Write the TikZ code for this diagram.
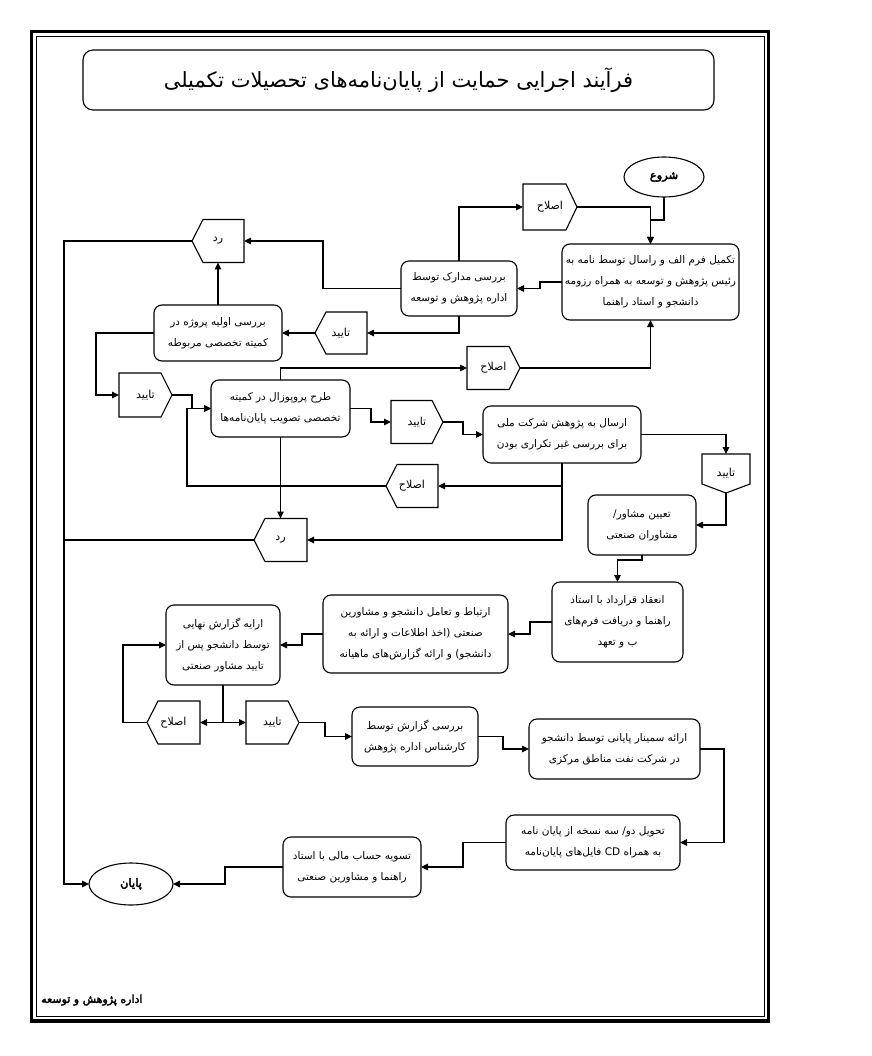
\documentclass[tikz,border=0pt]{standalone}
\usepackage{fontspec}
\usetikzlibrary{arrows.meta,shapes.geometric}
\TeXXeTstate=1
\newfontfamily\fafnt[Script=Arabic]{DejaVu Sans}
\newfontfamily\fabfnt[Script=Arabic,FakeBold=3]{DejaVu Sans}
\newcommand\rtlline[1]{\beginR #1\endR}
\newcommand\pentE[1]{\draw[shp] (#1.north west) -- ([xshift=-11pt]#1.north east) -- (#1.east) -- ([xshift=-11pt]#1.south east) -- (#1.south west) -- cycle;}
\newcommand\pentW[1]{\draw[shp] (#1.north east) -- ([xshift=11pt]#1.north west) -- (#1.west) -- ([xshift=11pt]#1.south west) -- (#1.south east) -- cycle;}
\newcommand\pentS[1]{\draw[shp] (#1.north west) -- (#1.north east) -- ([yshift=9pt]#1.south east) -- (#1.south) -- ([yshift=9pt]#1.south west) -- cycle;}
\begin{document}
\begin{tikzpicture}[x=1pt,y=-1pt,
  box/.style={draw, rounded corners=8pt, line width=1.1pt, inner sep=2pt, outer sep=0pt, align=center, font=\fafnt\fontsize{10.5}{21}\selectfont},
  pn/.style={inner sep=0pt, outer sep=0pt, font=\fafnt\fontsize{11}{21}\selectfont},
  term/.style={draw, ellipse, line width=1.1pt, inner sep=0pt, outer sep=0pt, font=\fabfnt\fontsize{11.5}{13}\selectfont},
  shp/.style={line width=1.1pt},
  cn/.style={line width=1.1pt, -{Triangle[length=7pt,width=6.5pt]}},
  ln/.style={line width=1.1pt},
]
\useasboundingbox (0,0) rectangle (871,1056);
% page frame
\draw[line width=3.5pt] (31.5,31.5) rectangle (768.5,1021);
\draw[line width=0.8pt] (36,36) rectangle (764,1016.5);

% title
\node[draw, rounded corners=10pt, line width=1.1pt, minimum width=631, minimum height=60, font=\fafnt\fontsize{21}{24}\selectfont] (title) at (398.5,80) {\rtlline{فرآیند اجرایی حمایت از پایان^^^^200cنامه^^^^200cهای تحصیلات تکمیلی}};

% terminals
\node[term, minimum width=80, minimum height=40] (shuru) at (664,177) {\rtlline{شروع}};
\node[term, minimum width=84, minimum height=42] (payan) at (131,884) {\rtlline{پایان}};

% process boxes
\node[box, minimum width=177, minimum height=76] (A) at (650.5,282) {\rtlline{تکمیل فرم الف و راسال توسط نامه به}\\\rtlline{رئیس پژوهش و توسعه به همراه رزومه}\\\rtlline{دانشجو و استاد راهنما}};
\node[box, minimum width=116, minimum height=55] (B) at (459,288.5) {\rtlline{بررسی مدارک توسط}\\\rtlline{اداره پژوهش و توسعه}};
\node[box, minimum width=128, minimum height=56] (C) at (218,333) {\rtlline{بررسی اولیه پروژه در}\\\rtlline{کمیته تخصصی مربوطه}};
\node[box, minimum width=139, minimum height=57] (D) at (280.5,408.5) {\rtlline{طرح پروپوزال در کمیته}\\\rtlline{تخصصی تصویب پایان^^^^200cنامه^^^^200cها}};
\node[box, minimum width=158, minimum height=57] (E) at (562,434.5) {\rtlline{ارسال به پژوهش شرکت ملی}\\\rtlline{برای بررسی غیر تکراری بودن}};
\node[box, minimum width=108, minimum height=60] (F) at (642,525) {\rtlline{تعیین مشاور\kern0pt/}\\\rtlline{مشاوران صنعتی}};
\node[box, minimum width=131, minimum height=80] (G) at (617.5,622) {\rtlline{انعقاد قرارداد با استاد}\\\rtlline{راهنما و دریافت فرم^^^^200cهای}\\\rtlline{ب و تعهد}};
\node[box, minimum width=185, minimum height=78] (H) at (415.5,634) {\rtlline{ارتباط و تعامل دانشجو و مشاورین}\\\rtlline{صنعتی (اخذ اطلاعات و ارائه به}\\\rtlline{دانشجو) و ارائه گزارش^^^^200cهای ماهیانه}};
\node[box, minimum width=114, minimum height=80] (I) at (223,645) {\rtlline{ارایه گزارش نهایی}\\\rtlline{توسط دانشجو پس از}\\\rtlline{تایید مشاور صنعتی}};
\node[box, minimum width=126, minimum height=59] (J) at (415,736.5) {\rtlline{بررسی گزارش توسط}\\\rtlline{کارشناس اداره پژوهش}};
\node[box, minimum width=171, minimum height=60] (K) at (614.5,749) {\rtlline{ارائه سمینار پایانی توسط دانشجو}\\\rtlline{در شرکت نفت مناطق مرکزی}};
\node[box, minimum width=174, minimum height=55] (L) at (593,842.5) {\rtlline{تحویل دو\kern0pt/ سه نسخه از پایان نامه}\\\rtlline{به همراه CD فایل^^^^200cهای پایان^^^^200cنامه}};
\node[box, minimum width=138, minimum height=60] (M) at (352,867) {\rtlline{تسویه حساب مالی با استاد}\\\rtlline{راهنما و مشاورین صنعتی}};

% decision tags
\node[pn, minimum width=54, minimum height=46] (eslah1) at (550,207) {\rtlline{اصلاح}};
\node[pn, minimum width=52, minimum height=43] (rad1) at (218,241) {\rtlline{رد}};
\node[pn, minimum width=52, minimum height=42] (tayid1) at (341,333) {\rtlline{تایید}};
\node[pn, minimum width=53, minimum height=44] (tayid2) at (145.5,395) {\rtlline{تایید}};
\node[pn, minimum width=53, minimum height=43] (eslah2) at (493.5,368) {\rtlline{اصلاح}};
\node[pn, minimum width=52, minimum height=43] (tayid3) at (417,422) {\rtlline{تایید}};
\node[pn, minimum width=48, minimum height=39] (tayid4) at (726,473.5) {\rtlline{تایید}};
\node[pn, minimum width=52, minimum height=43] (eslah3) at (412,486) {\rtlline{اصلاح}};
\node[pn, minimum width=53, minimum height=43] (rad2) at (280.5,540) {\rtlline{رد}};
\node[pn, minimum width=53, minimum height=43] (eslah4) at (173.5,722.5) {\rtlline{اصلاح}};
\node[pn, minimum width=53, minimum height=43] (tayid5) at (272.5,722.5) {\rtlline{تایید}};
\pentE{eslah1}
\pentW{rad1}
\pentW{tayid1}
\pentE{tayid2}
\pentE{eslah2}
\pentE{tayid3}
\pentS{tayid4}
\pentW{eslah3}
\pentW{rad2}
\pentW{eslah4}
\pentE{tayid5}

% footer
\node[anchor=west, inner sep=0pt, font=\fabfnt\fontsize{11}{12}\selectfont] (footer) at (41,1000) {\rtlline{اداره پژوهش و توسعه}};

% connectors
\draw[cn] (shuru.south) -- ++(0,23) -| (A.north);
\draw[cn] (eslah1.east) -| (A.north);
\draw[cn] (A.west) -- ++(-22,0) |- (B.east);
\draw[cn] (B.north) |- (eslah1.west);
\draw[cn] (B.west) -- ++(-78,0) |- (rad1.east);
\draw[cn] (B.south) |- (tayid1.east);
\draw[cn] (tayid1.west) -- (C.east);
\draw[cn] (C.north) -- (rad1.south);
\draw[cn] (rad1.west) -- ++(-128,0) |- (payan.west);
\draw[cn] (C.west) -- ++(-58,0) |- (tayid2.west);
\draw[cn] (tayid2.east) -- ++(20,0) |- (D.west);
\draw[cn] (eslah3.west) -- ++(-199,0) |- (D.west);
\draw[cn] (D.north) |- (eslah2.west);
\draw[cn] (eslah2.east) -| (A.south);
\draw[cn] (D.east) -- ++(21,0) |- (tayid3.west);
\draw[cn] (tayid3.east) -- ++(20,0) |- (E.west);
\draw[cn] (E.east) -| (tayid4.north);
\draw[cn] (tayid4.south) |- (F.east);
\draw[cn] (E.south) |- (eslah3.east);
\draw[cn] (E.south) |- (rad2.east);
\draw[cn] (D.south) -- (rad2.north);
\draw[ln] (rad2.west) -- ++(-190,0);
\draw[cn] (F.south) -- ++(0,5) -| (G.north);
\draw[cn] (G.west) -- ++(-22,0) |- (H.east);
\draw[cn] (H.west) -- ++(-21,0) |- (I.east);
\draw[cn] (I.south) |- (eslah4.east);
\draw[cn] (I.south) |- (tayid5.west);
\draw[cn] (eslah4.west) -- ++(-24,0) |- (I.west);
\draw[cn] (tayid5.east) -- ++(26,0) |- (J.west);
\draw[cn] (J.east) -- ++(25,0) |- (K.west);
\draw[cn] (K.east) -- ++(24,0) |- (L.east);
\draw[cn] (L.west) -- ++(-43,0) |- (M.east);
\draw[cn] (M.west) -- ++(-58,0) |- (payan.east);
\end{tikzpicture}
\end{document}
